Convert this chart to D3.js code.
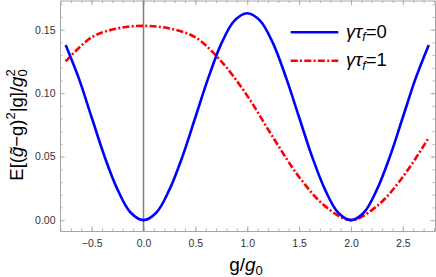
<!DOCTYPE html>
<html><head><meta charset="utf-8">
<script src="https://cdn.jsdelivr.net/npm/d3@7"></script>
<style>
html,body{margin:0;padding:0;background:#fff;}
svg{display:block;}
text{font-family:"Liberation Sans",Arial,sans-serif;}
</style></head>
<body>
<svg id="chart" width="436" height="277"></svg>
<script>
// ---- data ----
const gBlue = [-0.75,-0.625,-0.5,-0.375,-0.25,-0.125,0,0.125,0.25,0.375,0.5,0.625,0.75,0.875,1,1.125,1.25,1.375,1.5,1.625,1.75,1.875,2,2.125,2.25,2.375,2.5,2.625,2.75];
const blueVals = [0.138,0.112,0.081,0.050,0.024,0.006,0.000,0.006,0.024,0.050,0.081,0.112,0.139,0.157,0.163,0.157,0.139,0.112,0.081,0.050,0.024,0.006,0.000,0.006,0.024,0.050,0.081,0.112,0.138];
const gRed = [-0.75,-0.5,-0.25,0,0.25,0.5,0.75,1,1.25,1.5,1.75,2,2.25,2.5,2.75];
const redVals = [0.125,0.144,0.151,0.153,0.151,0.144,0.125,0.098,0.065,0.034,0.011,0.000,0.011,0.034,0.065];
const xTicks = [-0.5,0,0.5,1,1.5,2,2.5];
const xMinor = d3.range(-8,29).map(i=>i/10);
const yTicks = [0,0.05,0.10,0.15];
const yMinor = d3.range(0,18).map(i=>i/100);
const legendLabels = ["0","1"];

// ---- layout ----
const L=60, R=435, T=0.5, B=231;
const x = d3.scaleLinear().domain([-0.805,2.81]).range([L,R]);
const y = d3.scaleLinear().domain([-0.0086,0.173]).range([B,T]);
const svg = d3.select("#chart");

svg.append("defs").append("clipPath").attr("id","clip")
  .append("rect").attr("x",L).attr("y",T).attr("width",R-L).attr("height",B-T);

const frameCol="#a6a6a6", labCol="#333";
function styleAxis(g){
  g.selectAll("path.domain").attr("stroke",frameCol).attr("stroke-width",1);
  g.selectAll(".tick line").attr("stroke",frameCol).attr("stroke-width",0.8);
  g.selectAll(".tick text").attr("fill",labCol).style("font-size","10.5px").style("font-family","'Liberation Sans',Arial,sans-serif");
}
// minor ticks
svg.append("g").attr("transform",`translate(0,${B})`).call(d3.axisBottom(x).tickValues(xMinor).tickSize(-2.6).tickSizeOuter(0).tickFormat(""))
  .call(styleAxis).call(g=>g.select(".domain").remove());
svg.append("g").attr("transform",`translate(0,${T})`).call(d3.axisTop(x).tickValues(xMinor).tickSize(-2.6).tickSizeOuter(0).tickFormat(""))
  .call(styleAxis).call(g=>g.select(".domain").remove());
svg.append("g").attr("transform",`translate(${L},0)`).call(d3.axisLeft(y).tickValues(yMinor).tickSize(-2.6).tickSizeOuter(0).tickFormat(""))
  .call(styleAxis).call(g=>g.select(".domain").remove());
svg.append("g").attr("transform",`translate(${R},0)`).call(d3.axisRight(y).tickValues(yMinor).tickSize(-2.6).tickSizeOuter(0).tickFormat(""))
  .call(styleAxis).call(g=>g.select(".domain").remove());
// major ticks
svg.append("g").attr("transform",`translate(0,${B})`).call(d3.axisBottom(x).tickValues(xTicks).tickSize(-4.8).tickSizeOuter(0).tickPadding(8.3).tickFormat(d3.format(".1f")))
  .call(styleAxis);
svg.append("g").attr("transform",`translate(0,${T})`).call(d3.axisTop(x).tickValues(xTicks).tickSize(-4.8).tickSizeOuter(0).tickFormat(""))
  .call(styleAxis);
svg.append("g").attr("transform",`translate(${L},0)`).call(d3.axisLeft(y).tickValues(yTicks).tickSize(-4.8).tickSizeOuter(0).tickPadding(4.5).tickFormat(d3.format(".2f")))
  .call(styleAxis);
svg.append("g").attr("transform",`translate(${R},0)`).call(d3.axisRight(y).tickValues(yTicks).tickSize(-4.8).tickSizeOuter(0).tickFormat(""))
  .call(styleAxis);

// vertical axis at x=0
svg.append("line").attr("x1",x(0)).attr("x2",x(0)).attr("y1",T).attr("y2",B)
  .attr("stroke","#808080").attr("stroke-width",1.5);

// curves
const line = d3.line().x(d=>x(d[0])).y(d=>y(d[1])).curve(d3.curveCatmullRom.alpha(0.5));
const plot = svg.append("g").attr("clip-path","url(#clip)");
plot.append("path").datum(gRed.map((g,i)=>[g,redVals[i]]))
  .attr("d",line).attr("fill","none").attr("stroke","#ff0000").attr("stroke-width",2.6)
  .attr("stroke-dasharray","7,2.3,2,2.3");
plot.append("path").datum(gBlue.map((g,i)=>[g,blueVals[i]]))
  .attr("d",line).attr("fill","none").attr("stroke","#0000ff").attr("stroke-width",2.6);

// legend
const lg = svg.append("g");
const legendStyles=[{c:"#0000ff",dash:null,y:32.3},{c:"#ff0000",dash:"7,2.3,2,2.3",y:60.7}];
legendStyles.forEach((s,i)=>{
  lg.append("line").attr("x1",290.7).attr("x2",338.3).attr("y1",s.y).attr("y2",s.y)
    .attr("stroke",s.c).attr("stroke-width",2.6).attr("stroke-dasharray",s.dash);
  const t = lg.append("text").attr("x",346).attr("y",s.y+5.3).style("font-size","18.5px").attr("fill","#000");
  t.append("tspan").style("font-style","italic").text("γτ");
  t.append("tspan").style("font-style","italic").style("font-size","12.5px").attr("dy",3.8).text("f");
  t.append("tspan").attr("dy",-3.8).text("="+legendLabels[i]);
});

// axis titles
const xt = svg.append("text").attr("x",246).attr("y",271).attr("text-anchor","middle").style("font-size","19px").attr("fill","#000");
xt.append("tspan").text("g/");
xt.append("tspan").style("font-style","italic").text("g");
xt.append("tspan").style("font-size","13px").attr("dy",3.5).text("0");

const yt = svg.append("text").attr("transform","translate(23,125) rotate(-90)").attr("text-anchor","middle").style("font-size","18.5px").attr("fill","#000");
yt.append("tspan").text("E[(");
yt.append("tspan").style("font-style","italic").text("g\u0303");
yt.append("tspan").text("\u2212g)");
yt.append("tspan").style("font-size","13px").attr("dy",-8).text("2");
yt.append("tspan").attr("dy",8).text("|g]/");
yt.append("tspan").style("font-style","italic").text("g");
yt.append("tspan").style("font-size","13px").attr("dy",4).text("0");
yt.append("tspan").style("font-size","13px").attr("dy",-12.5).attr("dx",-7.2).text("2");
</script>
</body></html>
